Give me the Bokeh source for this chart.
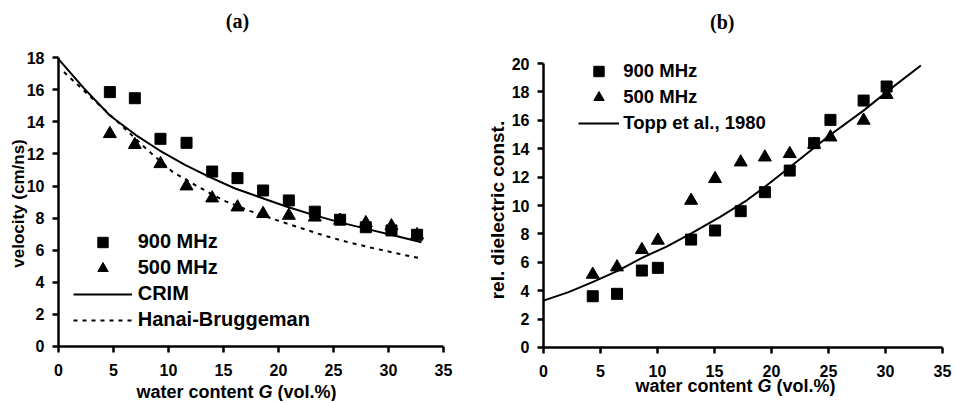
import math
from bokeh.plotting import figure
from bokeh.layouts import row
from bokeh.models import Range1d, FixedTicker, Legend, LegendItem, Label
from bokeh.embed import file_html
from bokeh.resources import INLINE

# ---------------- Panel (a): velocity vs water content ----------------
G_a = [4.67, 6.94, 9.27, 11.64, 13.97, 16.27, 18.6, 20.94, 23.3, 25.6, 27.94, 30.27, 32.6]
v_900 = [15.85, 15.47, 12.94, 12.69, 10.9, 10.49, 9.72, 9.1, 8.4, 7.9, 7.43, 7.23, 6.96]
v_500 = [13.25, 12.57, 11.38, 9.99, 9.24, 8.68, 8.27, 8.16, 8.05, 7.85, 7.7, 7.5, 6.95]

crim_G = [0, 2.3, 4.67, 7, 9.2, 11.5, 13.76, 16, 18.3, 20.7, 23.15, 25.5, 28, 30.5, 33]
crim_v = [17.9, 16.1, 14.39, 13.19, 12.21, 11.32, 10.55, 9.86, 9.3, 8.72, 8.2, 7.75, 7.33, 6.92, 6.5]

hb_G = [0.5, 3, 5.9, 8, 10.4, 12.5, 15, 17.3, 19.5, 21.8, 24.1, 26.3, 28.6, 30.7, 32.7]
hb_v = [17.1, 15.5, 13.66, 12.3, 10.86, 10.03, 9.1, 8.47, 7.95, 7.43, 6.92, 6.5, 6.13, 5.81, 5.52]

# ---------------- Panel (b): dielectric constant vs water content ----------------
G_b = [4.32, 6.45, 8.63, 10.03, 12.95, 15.05, 17.3, 19.42, 21.6, 23.74, 25.17, 28.08, 30.1]
eps_900 = [3.61, 3.78, 5.42, 5.61, 7.6, 8.24, 9.6, 10.94, 12.46, 14.39, 16.03, 17.39, 18.38]
eps_500 = [5.14, 5.66, 6.88, 7.54, 10.35, 11.88, 13.05, 13.4, 13.64, 14.3, 14.81, 15.99, 17.8]

topp_G = [0, 2.2, 4.3, 6.5, 8.6, 10.8, 13, 15.5, 17.8, 19.4, 21.6, 25.2, 28.1, 30.1, 33.1]
topp_eps = [3.3, 3.9, 4.6, 5.4, 6.3, 7.1, 8.05, 9.2, 10.35, 11.3, 12.7, 15.0, 16.7, 18.0, 19.86]

x_ticks = [0, 5, 10, 15, 20, 25, 30, 35]
ya_ticks = [0, 2, 4, 6, 8, 10, 12, 14, 16, 18]
yb_ticks = [0, 2, 4, 6, 8, 10, 12, 14, 16, 18, 20]

SANS = "Liberation Sans"
SERIF = "Liberation Serif"


def make_panel(width, height, xr, yr, xbounds, ybounds, xticks, yticks):
    p = figure(width=width, height=height, x_range=Range1d(*xr), y_range=Range1d(*yr),
               output_backend="svg", toolbar_location=None,
               min_border_left=0, min_border_right=0, min_border_top=0, min_border_bottom=0)
    p.outline_line_color = None
    p.xgrid.visible = False
    p.ygrid.visible = False
    p.xaxis.ticker = FixedTicker(ticks=xticks)
    p.yaxis.ticker = FixedTicker(ticks=yticks)
    p.xaxis.fixed_location = 0
    p.yaxis.fixed_location = 0
    p.xaxis.bounds = xbounds
    p.yaxis.bounds = ybounds
    for ax in (p.xaxis[0], p.yaxis[0]):
        ax.axis_label = None
        ax.axis_line_width = 2.5
        ax.axis_line_color = "black"
        ax.major_tick_line_width = 2.5
        ax.major_tick_line_color = "black"
        ax.major_tick_out = 6
        ax.major_tick_in = 0
        ax.minor_tick_out = 0
        ax.minor_tick_in = 0
        ax.major_label_text_font = SANS
        ax.major_label_text_font_style = "bold"
        ax.major_label_text_font_size = "16px"
        ax.major_label_text_color = "black"
    p.xaxis.major_label_standoff = 12
    p.yaxis.major_label_standoff = 8
    return p


def text(p, x, y, s, size, style="bold", font=SANS, align="center", baseline="middle", angle=0.0):
    p.add_layout(Label(x=x, y=y, text=s, text_align=align, text_baseline=baseline,
                       text_font=font, text_font_style=style, text_font_size=size,
                       text_color="black", angle=angle))


def xlabel(p, xs, y, size):
    text(p, xs[0], y, "water content", size, align="left", baseline="alphabetic")
    text(p, xs[1], y, "G", size, style="bold italic", align="left", baseline="alphabetic")
    text(p, xs[2], y, "(vol.%)", size, align="left", baseline="alphabetic")


def legend(p, items, loc, glyph_width, standoff, size):
    leg = Legend(items=[LegendItem(label=l, renderers=[r]) for l, r in items],
                 location=loc, padding=0, spacing=0, margin=0,
                 glyph_width=glyph_width, glyph_height=26, label_height=26, label_standoff=standoff,
                 border_line_color=None, background_fill_alpha=0,
                 label_text_font=SANS, label_text_font_style="bold",
                 label_text_font_size=size, label_text_color="black")
    p.add_layout(leg, "center")


# ---------------- figure (a) ----------------
pa = make_panel(475, 401, (-5.273, 37.909), (-3.427, 21.558), (0, 35), (0, 18), x_ticks, ya_ticks)

r_crim = pa.line(crim_G, crim_v, line_color="black", line_width=2)
r_hb = pa.line(hb_G, hb_v, line_color="black", line_width=2, line_dash="4 5")
r_500a = pa.scatter(G_a, v_500, marker="triangle", size=13, fill_color="black", line_color="black")
r_900a = pa.scatter(G_a, v_900, marker="square", size=11, fill_color="black", line_color="black")

legend(pa, [("900 MHz", r_900a), ("500 MHz", r_500a), ("CRIM", r_crim), ("Hanai-Bruggeman", r_hb)],
       (72.7, 68.3), 59, 6, "20px")

text(pa, 16.27, 20.31, "(a)", "20px", font=SERIF)
text(pa, -3.68, 8.91, "velocity (cm/ns)", "17px", angle=math.pi / 2)
xlabel(pa, [7.09, 18.18, 19.91], -2.804, "18px")

# ---------------- figure (b) ----------------
pb = make_panel(478, 401, (-5.965, 35.965), (-3.803, 24.437), (0, 35), (0, 20), x_ticks, yb_ticks)

r_topp = pb.line(topp_G, topp_eps, line_color="black", line_width=2)
r_500b = pb.scatter(G_b, eps_500, marker="triangle", size=13, fill_color="black", line_color="black")
r_900b = pb.scatter(G_b, eps_900, marker="square", size=11, fill_color="black", line_color="black")

legend(pb, [("900 MHz", r_900b), ("500 MHz", r_500b), ("Topp et al., 1980", r_topp)],
       (103.3, 265.3), 41, 4, "18.5px")

text(pb, 15.68, 22.89, "(b)", "20px", font=SERIF)
text(pb, -4.04, 9.68, "rel. dielectric const.", "19px", angle=math.pi / 2)
xlabel(pb, [8.07, 18.77, 20.44], -2.746, "18px")

layout = row(pa, pb)
open("out.html", "w").write(file_html(layout, INLINE))
